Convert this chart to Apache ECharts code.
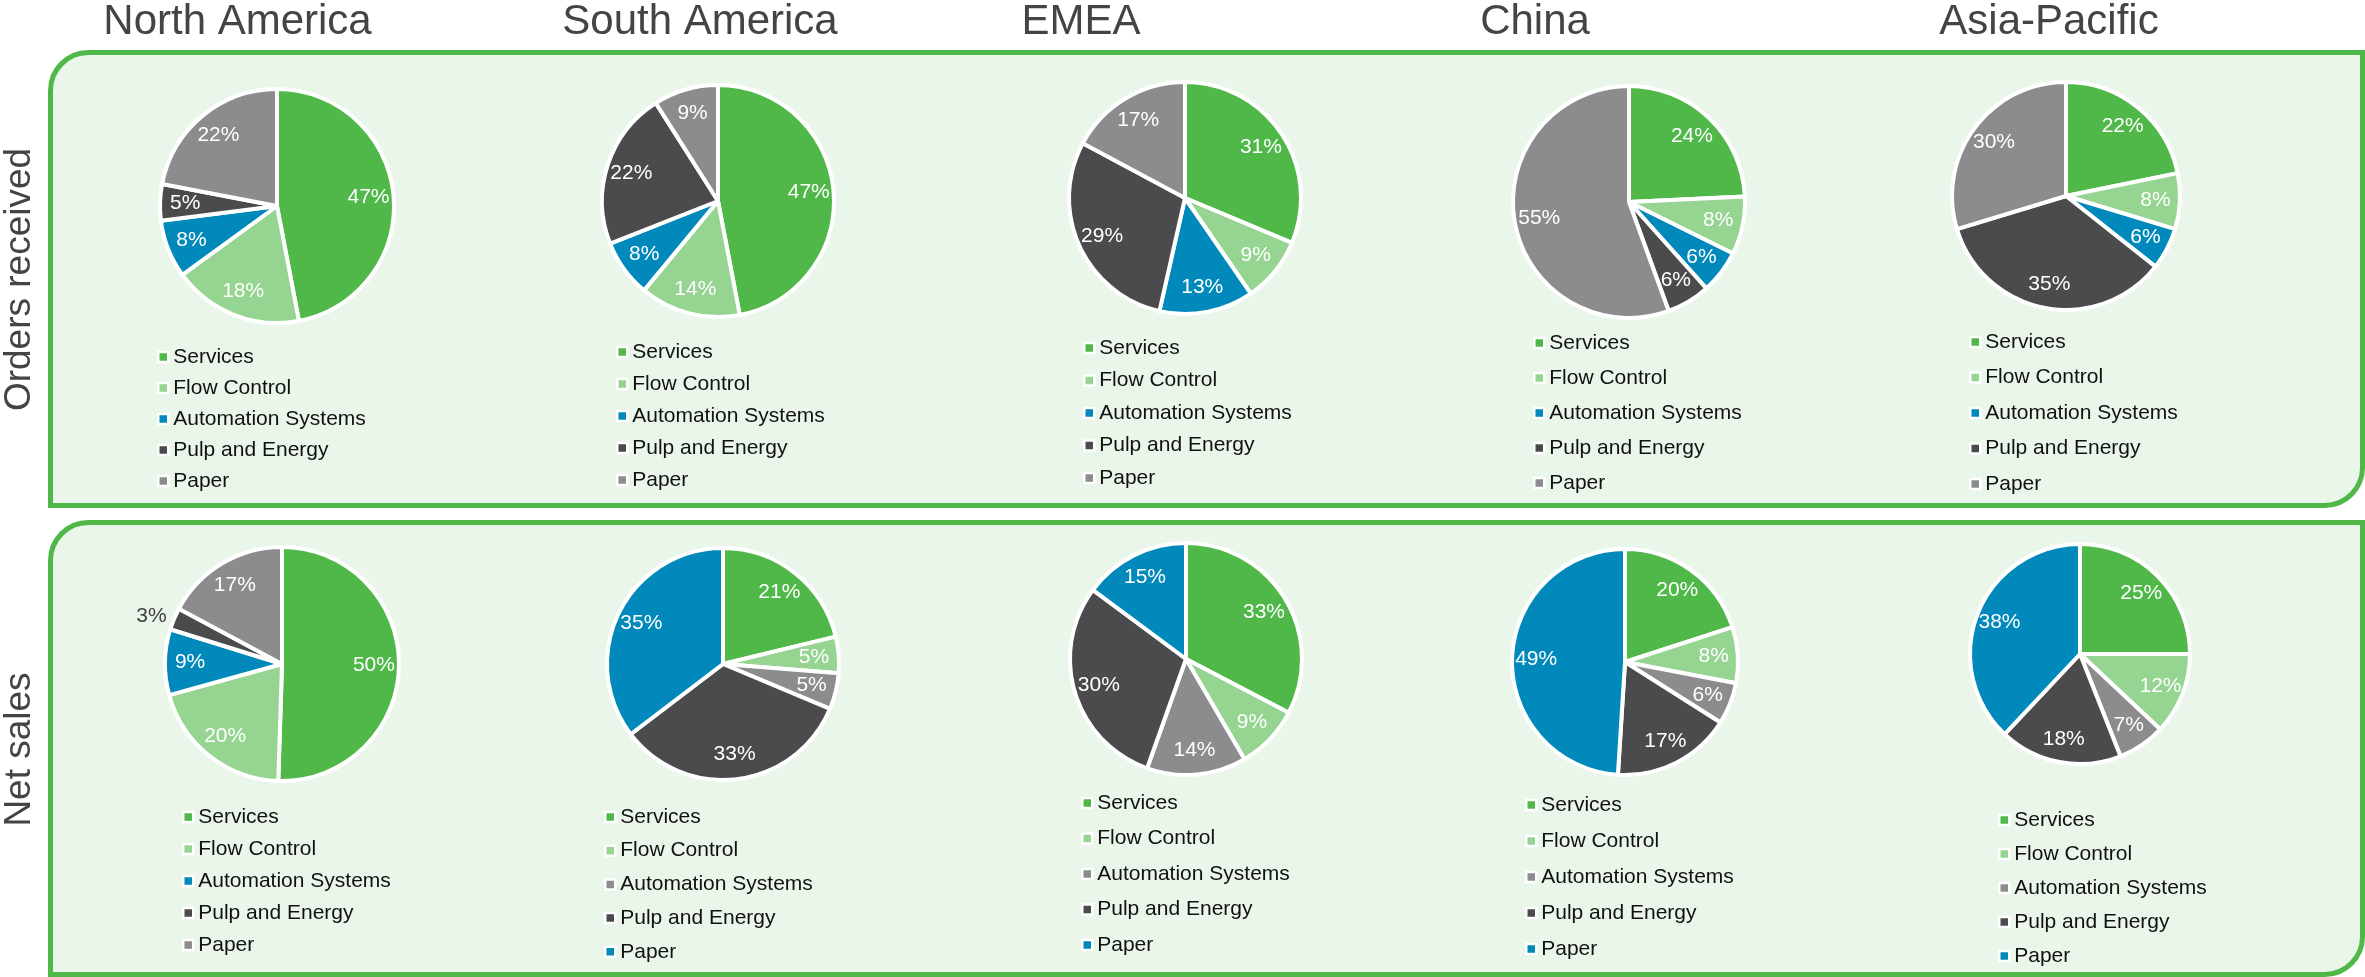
<!DOCTYPE html>
<html>
<head>
<meta charset="utf-8">
<script src="https://cdn.jsdelivr.net/npm/echarts@6/dist/echarts.min.js"></script>
<style>
html,body{margin:0;padding:0;background:#ffffff;}
#chart{width:2365px;height:977px;}
</style>
</head>
<body>
<div id="chart"></div>
<script>
// ---------------- DATA ----------------
const regions = ['North America', 'South America', 'EMEA', 'China', 'Asia-Pacific'];
const rowLabels = ['Orders received', 'Net sales'];
const segments = ['Services', 'Flow Control', 'Automation Systems', 'Pulp and Energy', 'Paper'];

const ordersNorthAmerica = [47, 18, 8, 5, 22];
const ordersSouthAmerica = [47, 14, 8, 22, 9];
const ordersEMEA         = [31, 9, 13, 29, 17];
const ordersChina        = [24, 8, 6, 6, 55];
const ordersAsiaPacific  = [22, 8, 6, 35, 30];

const salesNorthAmerica  = [50, 20, 9, 3, 17];
const salesSouthAmerica  = [21, 5, 5, 33, 35];
const salesEMEA          = [33, 9, 14, 30, 15];
const salesChina         = [20, 8, 6, 17, 49];
const salesAsiaPacific   = [25, 12, 7, 18, 38];

// ---------------- STYLE ----------------
const FONT = "'Liberation Sans', Arial, Helvetica, sans-serif";
const GREEN = '#50b848', LIGHT = '#96d492', BLUE = '#0089ba', DARK = '#4b4b4d', GRAY = '#8c8c8e';
const paletteA = [GREEN, LIGHT, BLUE, DARK, GRAY];   // automation blue, paper gray
const paletteB = [GREEN, LIGHT, GRAY, DARK, BLUE];   // automation gray, paper blue

const titleX = [237.5, 700, 1081, 1535, 2049];

const pies = [
  {vals: ordersNorthAmerica, colors: paletteA, c: [277, 206], r: 117, lg: [157, 346.5, 10]},
  {vals: ordersSouthAmerica, colors: paletteA, c: [718, 201], r: 116, lg: [616, 341.5, 11]},
  {vals: ordersEMEA,         colors: paletteA, c: [1185, 198], r: 116, lg: [1083, 337.5, 11.5]},
  {vals: ordersChina,        colors: paletteA, c: [1629, 202], r: 116, lg: [1533, 332.5, 14]},
  {vals: ordersAsiaPacific,  colors: paletteA, c: [2066, 196], r: 114, lg: [1969, 331.5, 14.5]},
  {vals: salesNorthAmerica,  colors: paletteA, c: [282, 664], r: 117, lg: [182, 806.5, 11], outside: [3]},
  {vals: salesSouthAmerica,  colors: paletteB, c: [723, 664], r: 116, lg: [604, 806.5, 12.7]},
  {vals: salesEMEA,          colors: paletteB, c: [1186, 659], r: 116, lg: [1081, 792.5, 14.5]},
  {vals: salesChina,         colors: paletteB, c: [1625, 662], r: 113, lg: [1525, 794.5, 15]},
  {vals: salesAsiaPacific,   colors: paletteB, c: [2080, 654], r: 110, lg: [1998, 809.5, 13]}
];

const series = [];
const legends = [];
pies.forEach(function (p) {
  series.push({
    type: 'pie', center: p.c, radius: p.r, startAngle: 90, clockwise: true,
    silent: true, animation: false, z: 2,
    itemStyle: {borderColor: '#ffffff', borderWidth: 4},
    label: {show: false}, labelLine: {show: false},
    emphasis: {disabled: true},
    data: segments.map(function (name, i) {
      return {name: name, value: p.vals[i], itemStyle: {color: p.colors[i]}};
    })
  });
  series.push({
    type: 'pie', center: p.c, radius: [p.r * 0.52, p.r], startAngle: 90, clockwise: true,
    silent: true, animation: false, z: 3,
    itemStyle: {color: 'rgba(0,0,0,0)', borderWidth: 0},
    label: {show: true, position: 'inside', formatter: '{c}%', color: '#ffffff',
            fontSize: 21, fontFamily: FONT, textBorderWidth: 0, distanceToLabelLine: 0},
    labelLine: {show: false, length: 8, length2: 0},
    emphasis: {disabled: true},
    data: segments.map(function (name, i) {
      const d = {name: name, value: p.vals[i]};
      if (p.outside && p.outside.indexOf(i) >= 0) {
        d.label = {position: 'outside', color: '#404040', distanceToLabelLine: 0};
        d.labelLine = {show: false, length: 8, length2: 0};
      }
      return d;
    })
  });
  legends.push({
    orient: 'vertical', left: p.lg[0], top: p.lg[1], itemGap: p.lg[2], padding: 0,
    itemWidth: 10, itemHeight: 10, icon: 'rect', selectedMode: false,
    textStyle: {fontSize: 21, color: '#111111', fontFamily: FONT},
    data: segments.map(function (name, i) {
      return {name: name, itemStyle: {color: p.colors[i], borderColor: '#ffffff', borderWidth: 2.5}};
    })
  });
});

const graphic = [
  {type: 'rect', z: 0, shape: {x: 50.5, y: 52.5, width: 2312, height: 453, r: [38, 0, 38, 0]},
   style: {fill: '#eaf6ea', stroke: GREEN, lineWidth: 5}},
  {type: 'rect', z: 0, shape: {x: 50.5, y: 522.5, width: 2312, height: 452, r: [38, 0, 38, 0]},
   style: {fill: '#eaf6ea', stroke: GREEN, lineWidth: 5}}
];
regions.forEach(function (t, i) {
  graphic.push({type: 'text', z: 5, x: titleX[i], y: 22,
    style: {text: t, fontSize: 42, fontFamily: FONT, fill: '#444444',
            align: 'center', verticalAlign: 'middle', textAlign: 'center', textVerticalAlign: 'middle'}});
});
const rowY = [279.5, 749.5];
rowLabels.forEach(function (t, i) {
  graphic.push({type: 'text', z: 5, x: 20, y: rowY[i], rotation: Math.PI / 2,
    style: {text: t, fontSize: 37, fontFamily: FONT, fill: '#444444',
            align: 'center', verticalAlign: 'middle', textAlign: 'center', textVerticalAlign: 'middle'}});
});

const chart = echarts.init(document.getElementById('chart'), null, {renderer: 'canvas'});
chart.setOption({
  backgroundColor: '#ffffff',
  animation: false,
  graphic: graphic,
  legend: legends,
  series: series
});
</script>
</body>
</html>
